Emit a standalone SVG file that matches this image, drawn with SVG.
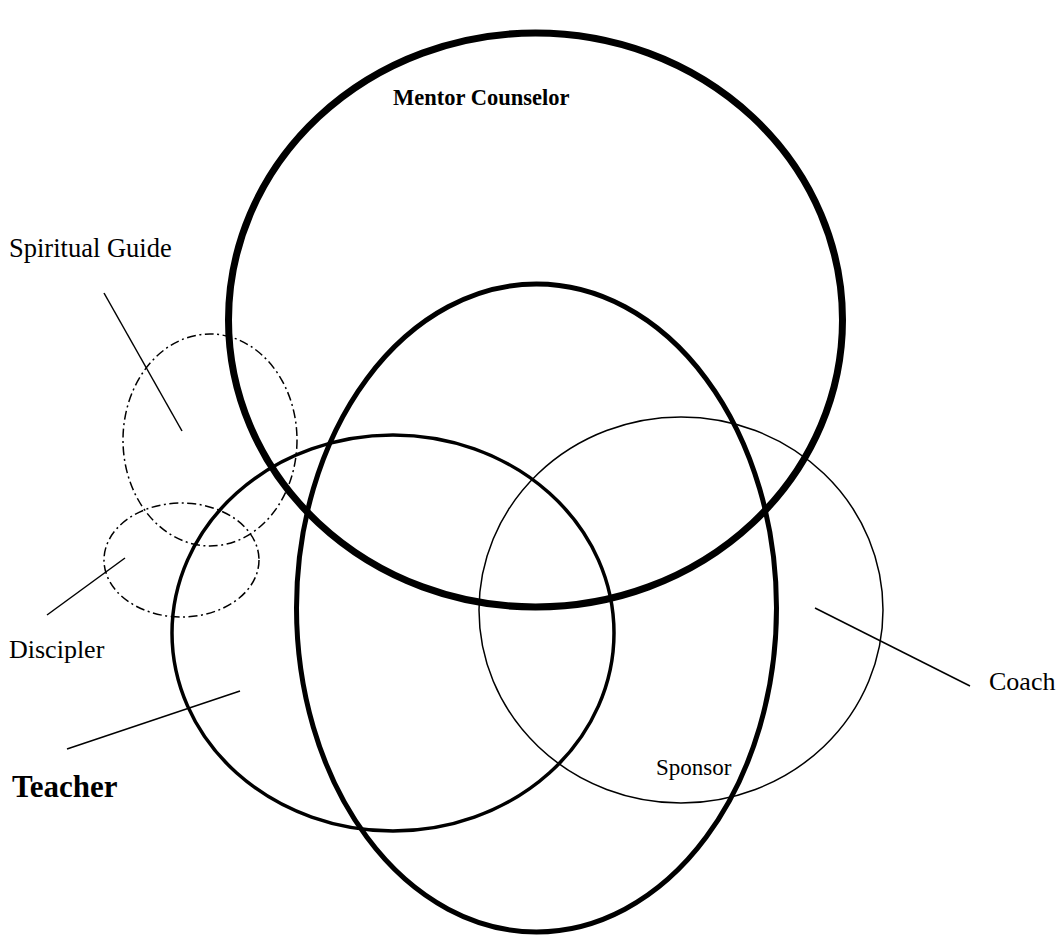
<svg xmlns="http://www.w3.org/2000/svg" width="1058" height="937" viewBox="0 0 1058 937">
<style>
.c{fill:none;stroke:#000}
.d{fill:none;stroke:#000;stroke-width:1.5;stroke-dasharray:9 3.5 2 3.5}
.l{stroke:#000;stroke-width:1.5}
.t{font-family:"Liberation Serif","Times New Roman",serif;fill:#000}
</style>
<rect width="1058" height="937" fill="#fff"/>
<g id="mentor"><ellipse class="c" cx="535.5" cy="320" rx="307" ry="287" stroke-width="7"/><text class="t" x="393" y="105" font-size="22.5" font-weight="bold">Mentor Counselor</text></g>
<g id="counselor-inner"><ellipse class="c" cx="536.5" cy="608" rx="240" ry="324" stroke-width="5"/></g>
<g id="teacher"><ellipse class="c" cx="393" cy="633" rx="221" ry="198" stroke-width="3.5"/><text class="t" x="12" y="797" font-size="31" font-weight="bold">Teacher</text></g>
<g id="coach"><ellipse class="c" cx="681" cy="610" rx="202" ry="193" stroke-width="1.5"/><text class="t" x="989" y="690" font-size="26">Coach</text></g>
<g id="spiritual-guide"><ellipse class="d" cx="210" cy="440" rx="87" ry="106"/><text class="t" x="9" y="257" font-size="26.5">Spiritual Guide</text></g>
<g id="discipler"><ellipse class="d" cx="181.5" cy="560" rx="77.5" ry="57"/><text class="t" x="9" y="658" font-size="26">Discipler</text></g>
<g id="sponsor"><text class="t" x="656" y="775" font-size="23">Sponsor</text></g>
<g id="connectors">
<line class="l" x1="104" y1="293" x2="182" y2="431"/>
<line class="l" x1="47" y1="615" x2="125" y2="558"/>
<line class="l" x1="67" y1="749" x2="240" y2="691"/>
<line class="l" x1="815" y1="608" x2="970" y2="686"/>
</g>
</svg>
